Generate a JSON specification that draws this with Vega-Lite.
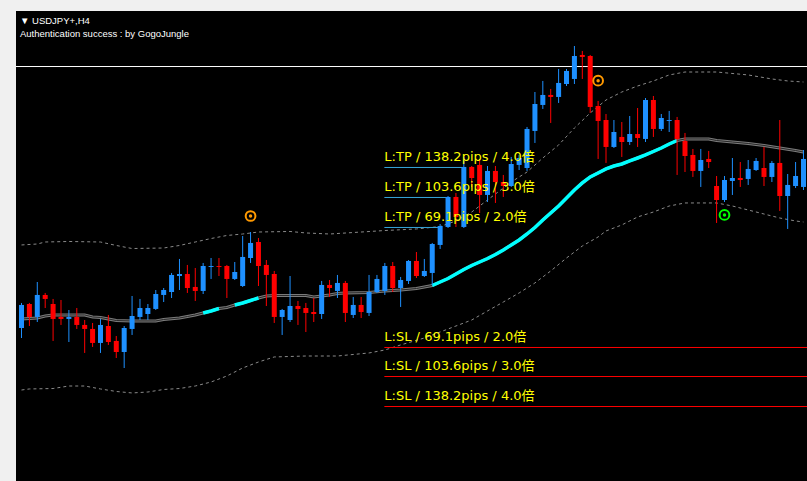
{
  "$schema": "https://vega.github.io/schema/vega-lite/v6.json",
  "width": 791,
  "height": 470,
  "autosize": {"type": "none"},
  "padding": {"left": 16, "top": 11, "right": 0, "bottom": 0},
  "background": "#f0f0f0",
  "config": {"view": {"stroke": null, "fill": "#000000"}},
  "title": {
    "text": "▼ USDJPY+,H4",
    "subtitle": "Authentication success : by GogoJungle",
    "anchor": "start",
    "frame": "group",
    "orient": "top",
    "offset": -27,
    "dx": 4,
    "font": "Liberation Sans",
    "fontSize": 9.5,
    "fontWeight": "normal",
    "color": "#ffffff",
    "subtitleFont": "Liberation Sans",
    "subtitleFontSize": 9.5,
    "subtitleColor": "#ffffff",
    "subtitlePadding": 3
  },
  "datasets": {
    "candles": [
      {"i":0,"o":110.032,"h":110.320,"l":109.917,"c":110.297},
      {"i":1,"o":110.308,"h":110.320,"l":110.055,"c":110.159},
      {"i":2,"o":110.159,"h":110.561,"l":110.101,"c":110.412},
      {"i":3,"o":110.412,"h":110.435,"l":110.262,"c":110.366},
      {"i":4,"o":110.308,"h":110.366,"l":109.883,"c":110.136},
      {"i":5,"o":110.159,"h":110.354,"l":110.067,"c":110.136},
      {"i":6,"o":110.136,"h":110.239,"l":109.871,"c":110.159},
      {"i":7,"o":110.159,"h":110.262,"l":110.021,"c":110.067},
      {"i":8,"o":110.067,"h":110.124,"l":109.745,"c":110.021},
      {"i":9,"o":110.021,"h":110.090,"l":109.814,"c":109.860},
      {"i":10,"o":109.860,"h":110.136,"l":109.745,"c":110.067},
      {"i":11,"o":110.055,"h":110.182,"l":109.837,"c":109.871},
      {"i":12,"o":109.883,"h":109.940,"l":109.687,"c":109.756},
      {"i":13,"o":109.756,"h":110.055,"l":109.572,"c":110.032},
      {"i":14,"o":110.021,"h":110.400,"l":109.952,"c":110.170},
      {"i":15,"o":110.159,"h":110.366,"l":110.124,"c":110.262},
      {"i":16,"o":110.193,"h":110.308,"l":110.124,"c":110.262},
      {"i":17,"o":110.251,"h":110.469,"l":110.239,"c":110.423},
      {"i":18,"o":110.412,"h":110.492,"l":110.331,"c":110.469},
      {"i":19,"o":110.446,"h":110.665,"l":110.377,"c":110.642},
      {"i":20,"o":110.630,"h":110.826,"l":110.469,"c":110.653},
      {"i":21,"o":110.653,"h":110.757,"l":110.435,"c":110.492},
      {"i":22,"o":110.504,"h":110.722,"l":110.343,"c":110.458},
      {"i":23,"o":110.458,"h":110.780,"l":110.423,"c":110.745},
      {"i":24,"o":110.734,"h":110.837,"l":110.596,"c":110.745},
      {"i":25,"o":110.745,"h":110.837,"l":110.630,"c":110.734},
      {"i":26,"o":110.745,"h":110.757,"l":110.377,"c":110.596},
      {"i":27,"o":110.596,"h":110.791,"l":110.584,"c":110.676},
      {"i":28,"o":110.515,"h":111.090,"l":110.504,"c":110.849},
      {"i":29,"o":110.837,"h":111.136,"l":110.780,"c":111.010},
      {"i":30,"o":111.021,"h":111.067,"l":110.515,"c":110.745},
      {"i":31,"o":110.757,"h":110.814,"l":110.285,"c":110.642},
      {"i":32,"o":110.653,"h":110.688,"l":110.090,"c":110.159},
      {"i":33,"o":110.159,"h":110.251,"l":109.952,"c":110.239},
      {"i":34,"o":110.124,"h":110.630,"l":110.101,"c":110.285},
      {"i":35,"o":110.285,"h":110.343,"l":110.067,"c":110.251},
      {"i":36,"o":110.262,"h":110.320,"l":109.986,"c":110.205},
      {"i":37,"o":110.216,"h":110.377,"l":110.101,"c":110.193},
      {"i":38,"o":110.193,"h":110.573,"l":110.136,"c":110.527},
      {"i":39,"o":110.527,"h":110.584,"l":110.389,"c":110.492},
      {"i":40,"o":110.458,"h":110.642,"l":110.377,"c":110.550},
      {"i":41,"o":110.550,"h":110.573,"l":110.101,"c":110.205},
      {"i":42,"o":110.182,"h":110.389,"l":110.147,"c":110.297},
      {"i":43,"o":110.297,"h":110.389,"l":110.147,"c":110.216},
      {"i":44,"o":110.205,"h":110.642,"l":110.170,"c":110.446},
      {"i":45,"o":110.446,"h":110.642,"l":110.435,"c":110.596},
      {"i":46,"o":110.458,"h":110.780,"l":110.412,"c":110.745},
      {"i":47,"o":110.745,"h":110.791,"l":110.446,"c":110.492},
      {"i":48,"o":110.492,"h":110.619,"l":110.274,"c":110.584},
      {"i":49,"o":110.573,"h":110.814,"l":110.538,"c":110.803},
      {"i":50,"o":110.803,"h":110.906,"l":110.607,"c":110.630},
      {"i":51,"o":110.630,"h":110.826,"l":110.619,"c":110.688},
      {"i":52,"o":110.665,"h":111.010,"l":110.527,"c":110.998},
      {"i":53,"o":110.987,"h":111.228,"l":110.941,"c":111.205},
      {"i":54,"o":111.194,"h":111.550,"l":111.182,"c":111.539},
      {"i":55,"o":111.539,"h":111.585,"l":111.194,"c":111.309},
      {"i":56,"o":111.194,"h":111.999,"l":111.182,"c":111.884},
      {"i":57,"o":111.884,"h":111.895,"l":111.654,"c":111.757},
      {"i":58,"o":111.907,"h":111.976,"l":111.355,"c":111.562},
      {"i":59,"o":111.562,"h":111.895,"l":111.481,"c":111.838},
      {"i":60,"o":111.838,"h":111.895,"l":111.470,"c":111.711},
      {"i":61,"o":111.711,"h":111.792,"l":111.539,"c":111.665},
      {"i":62,"o":111.665,"h":111.999,"l":111.654,"c":111.918},
      {"i":63,"o":111.907,"h":112.022,"l":111.849,"c":111.987},
      {"i":64,"o":111.872,"h":112.344,"l":111.838,"c":112.321},
      {"i":65,"o":112.298,"h":112.746,"l":112.160,"c":112.608},
      {"i":66,"o":112.597,"h":112.873,"l":112.551,"c":112.712},
      {"i":67,"o":112.712,"h":112.781,"l":112.390,"c":112.689},
      {"i":68,"o":112.689,"h":113.011,"l":112.620,"c":112.850},
      {"i":69,"o":112.838,"h":113.011,"l":112.815,"c":112.988},
      {"i":70,"o":112.896,"h":113.275,"l":112.838,"c":113.160},
      {"i":71,"o":113.172,"h":113.218,"l":112.896,"c":113.149},
      {"i":72,"o":113.160,"h":113.172,"l":112.505,"c":112.574},
      {"i":73,"o":112.585,"h":112.643,"l":111.976,"c":112.413},
      {"i":74,"o":112.424,"h":112.493,"l":111.930,"c":112.114},
      {"i":75,"o":112.114,"h":112.424,"l":112.102,"c":112.286},
      {"i":76,"o":112.229,"h":112.401,"l":111.999,"c":112.171},
      {"i":77,"o":112.171,"h":112.470,"l":112.137,"c":112.263},
      {"i":78,"o":112.263,"h":112.562,"l":112.114,"c":112.217},
      {"i":79,"o":112.206,"h":112.677,"l":112.171,"c":112.654},
      {"i":80,"o":112.654,"h":112.700,"l":112.229,"c":112.321},
      {"i":81,"o":112.321,"h":112.493,"l":112.298,"c":112.447},
      {"i":82,"o":112.413,"h":112.528,"l":112.286,"c":112.424},
      {"i":83,"o":112.424,"h":112.459,"l":111.792,"c":112.206},
      {"i":84,"o":112.183,"h":112.275,"l":111.826,"c":112.010},
      {"i":85,"o":112.022,"h":112.091,"l":111.769,"c":111.838},
      {"i":86,"o":111.838,"h":112.091,"l":111.654,"c":111.964},
      {"i":87,"o":111.976,"h":112.068,"l":111.872,"c":111.941},
      {"i":88,"o":111.665,"h":111.780,"l":111.240,"c":111.504},
      {"i":89,"o":111.504,"h":111.780,"l":111.481,"c":111.734},
      {"i":90,"o":111.723,"h":111.987,"l":111.562,"c":111.757},
      {"i":91,"o":111.757,"h":111.941,"l":111.654,"c":111.734},
      {"i":92,"o":111.746,"h":111.964,"l":111.677,"c":111.861},
      {"i":93,"o":111.849,"h":111.987,"l":111.838,"c":111.953},
      {"i":94,"o":111.872,"h":112.114,"l":111.665,"c":111.769},
      {"i":95,"o":111.769,"h":111.953,"l":111.711,"c":111.930},
      {"i":96,"o":111.930,"h":112.424,"l":111.378,"c":111.550},
      {"i":97,"o":111.550,"h":111.803,"l":111.171,"c":111.677},
      {"i":98,"o":111.665,"h":111.941,"l":111.642,"c":111.780},
      {"i":99,"o":111.654,"h":112.079,"l":111.619,"c":111.976}
    ],
    "ma": [
      {"i":0,"v":110.136},{"i":2,"v":110.147},{"i":3,"v":110.170},{"i":4,"v":110.182},
      {"i":8,"v":110.182},{"i":9,"v":110.159},{"i":10,"v":110.153},{"i":11,"v":110.136},
      {"i":12,"v":110.118},{"i":14,"v":110.113},{"i":17,"v":110.113},{"i":18,"v":110.130},
      {"i":20,"v":110.147},{"i":21,"v":110.164},{"i":22,"v":110.182},
      {"i":23,"v":110.205,"t":"A"},{"i":24,"v":110.228,"t":"A"},{"i":25,"v":110.256,"t":"A"},
      {"i":26,"v":110.268},
      {"i":27,"v":110.297,"t":"B"},{"i":28,"v":110.320,"t":"B"},{"i":29,"v":110.348,"t":"B"},{"i":30,"v":110.377,"t":"B"},
      {"i":31,"v":110.400},{"i":32,"v":110.406},{"i":36,"v":110.406},{"i":37,"v":110.389},
      {"i":38,"v":110.400},{"i":39,"v":110.412},{"i":40,"v":110.429},{"i":41,"v":110.435},
      {"i":44,"v":110.440},{"i":46,"v":110.458},{"i":48,"v":110.469},{"i":50,"v":110.486},
      {"i":52,"v":110.521,"t":"C"},{"i":53,"v":110.561,"t":"C"},{"i":54,"v":110.601,"t":"C"},
      {"i":55,"v":110.653,"t":"C"},{"i":56,"v":110.705,"t":"C"},{"i":57,"v":110.751,"t":"C"},
      {"i":58,"v":110.791,"t":"C"},{"i":59,"v":110.831,"t":"C"},{"i":60,"v":110.877,"t":"C"},
      {"i":61,"v":110.929,"t":"C"},{"i":62,"v":110.987,"t":"C"},{"i":63,"v":111.044,"t":"C"},
      {"i":64,"v":111.113,"t":"C"},{"i":65,"v":111.188,"t":"C"},{"i":66,"v":111.274,"t":"C"},
      {"i":67,"v":111.355,"t":"C"},{"i":68,"v":111.435,"t":"C"},{"i":69,"v":111.527,"t":"C"},
      {"i":70,"v":111.619,"t":"C"},{"i":71,"v":111.700,"t":"C"},{"i":72,"v":111.769,"t":"C"},
      {"i":73,"v":111.815,"t":"C"},{"i":74,"v":111.861,"t":"C"},{"i":75,"v":111.895,"t":"C"},
      {"i":76,"v":111.918,"t":"C"},{"i":77,"v":111.953,"t":"C"},{"i":78,"v":111.987,"t":"C"},
      {"i":79,"v":112.022,"t":"C"},{"i":80,"v":112.062,"t":"C"},{"i":81,"v":112.102,"t":"C"},
      {"i":82,"v":112.148,"t":"C"},{"i":83,"v":112.188,"t":"C"},
      {"i":84,"v":112.206},{"i":87,"v":112.206},{"i":88,"v":112.188},{"i":90,"v":112.171},
      {"i":92,"v":112.154},{"i":94,"v":112.131},{"i":96,"v":112.102},{"i":98,"v":112.073},
      {"i":99,"v":112.056}
    ],
    "bands": [
      {"b":"upper","i":0,"v":110.987},{"b":"upper","i":2,"v":110.998},{"b":"upper","i":3,"v":111.021},
      {"b":"upper","i":6,"v":111.027},{"b":"upper","i":10,"v":111.021},{"b":"upper","i":12,"v":110.981},
      {"b":"upper","i":14,"v":110.946},{"b":"upper","i":18,"v":110.952},{"b":"upper","i":20,"v":110.981},
      {"b":"upper","i":22,"v":111.021},{"b":"upper","i":24,"v":111.061},{"b":"upper","i":26,"v":111.096},
      {"b":"upper","i":28,"v":111.113},{"b":"upper","i":30,"v":111.136},{"b":"upper","i":34,"v":111.142},
      {"b":"upper","i":36,"v":111.125},{"b":"upper","i":39,"v":111.113},{"b":"upper","i":42,"v":111.130},
      {"b":"upper","i":46,"v":111.153},{"b":"upper","i":50,"v":111.171},{"b":"upper","i":53,"v":111.199},
      {"b":"upper","i":55,"v":111.263},{"b":"upper","i":57,"v":111.366},{"b":"upper","i":58,"v":111.435},
      {"b":"upper","i":60,"v":111.573},{"b":"upper","i":62,"v":111.711},{"b":"upper","i":64,"v":111.826},
      {"b":"upper","i":66,"v":111.987},{"b":"upper","i":68,"v":112.137},{"b":"upper","i":70,"v":112.332},
      {"b":"upper","i":72,"v":112.505},{"b":"upper","i":74,"v":112.654},{"b":"upper","i":76,"v":112.746},
      {"b":"upper","i":78,"v":112.815},{"b":"upper","i":80,"v":112.873},{"b":"upper","i":82,"v":112.942},
      {"b":"upper","i":84,"v":112.976},{"b":"upper","i":88,"v":112.976},{"b":"upper","i":92,"v":112.942},
      {"b":"upper","i":95,"v":112.896},{"b":"upper","i":97,"v":112.873},{"b":"upper","i":99,"v":112.861},
      {"b":"lower","i":0,"v":109.319},{"b":"lower","i":1,"v":109.331},{"b":"lower","i":4,"v":109.336},
      {"b":"lower","i":6,"v":109.365},{"b":"lower","i":8,"v":109.365},{"b":"lower","i":10,"v":109.331},
      {"b":"lower","i":12,"v":109.302},{"b":"lower","i":14,"v":109.285},{"b":"lower","i":16,"v":109.296},
      {"b":"lower","i":18,"v":109.325},{"b":"lower","i":20,"v":109.336},{"b":"lower","i":22,"v":109.365},
      {"b":"lower","i":24,"v":109.411},{"b":"lower","i":26,"v":109.480},{"b":"lower","i":28,"v":109.572},
      {"b":"lower","i":30,"v":109.641},{"b":"lower","i":32,"v":109.699},{"b":"lower","i":36,"v":109.710},
      {"b":"lower","i":40,"v":109.710},{"b":"lower","i":44,"v":109.745},{"b":"lower","i":46,"v":109.779},
      {"b":"lower","i":48,"v":109.837},{"b":"lower","i":51,"v":109.917},{"b":"lower","i":53,"v":109.986},
      {"b":"lower","i":55,"v":110.055},{"b":"lower","i":57,"v":110.124},{"b":"lower","i":59,"v":110.228},
      {"b":"lower","i":61,"v":110.331},{"b":"lower","i":63,"v":110.435},{"b":"lower","i":65,"v":110.550},
      {"b":"lower","i":67,"v":110.688},{"b":"lower","i":69,"v":110.837},{"b":"lower","i":71,"v":110.975},
      {"b":"lower","i":73,"v":111.079},{"b":"lower","i":74,"v":111.148},{"b":"lower","i":76,"v":111.217},
      {"b":"lower","i":78,"v":111.309},{"b":"lower","i":80,"v":111.366},{"b":"lower","i":82,"v":111.435},
      {"b":"lower","i":84,"v":111.470},{"b":"lower","i":88,"v":111.470},{"b":"lower","i":90,"v":111.435},
      {"b":"lower","i":92,"v":111.389},{"b":"lower","i":94,"v":111.343},{"b":"lower","i":96,"v":111.297},
      {"b":"lower","i":98,"v":111.263},{"b":"lower","i":99,"v":111.251}
    ],
    "hline": [{"v":113.039}],
    "levels": [
      {"kind":"TP","label":"L:TP / 138.2pips / 4.0倍","v":111.878,"i0":45.94,"i1":55.94},
      {"kind":"TP","label":"L:TP / 103.6pips / 3.0倍","v":111.533,"i0":45.94,"i1":53.78},
      {"kind":"TP","label":"L:TP / 69.1pips / 2.0倍","v":111.188,"i0":45.94,"i1":52.94},
      {"kind":"SL","label":"L:SL / 69.1pips / 2.0倍","v":109.808,"i0":45.94,"i1":99.5},
      {"kind":"SL","label":"L:SL / 103.6pips / 3.0倍","v":109.474,"i0":45.94,"i1":99.5},
      {"kind":"SL","label":"L:SL / 138.2pips / 4.0倍","v":109.129,"i0":45.94,"i1":99.5}
    ],
    "signals": [
      {"kind":"sell","i":29,"v":111.320},
      {"kind":"sell","i":73,"v":112.876},
      {"kind":"buy","i":89,"v":111.332}
    ]
  },
  "layer": [
    {
      "data": {"name": "bands"},
      "mark": {"type": "line", "stroke": "#8a8a8a", "strokeWidth": 1, "strokeDash": [3, 3], "clip": true},
      "encoding": {
        "x": {"field": "i", "type": "quantitative", "scale": {"domain": [-0.0625, 98.8125], "nice": false, "zero": false}, "axis": null},
        "y": {"field": "v", "type": "quantitative", "scale": {"domain": [108.2725, 113.6775], "nice": false, "zero": false}, "axis": null},
        "detail": {"field": "b"}
      }
    },
    {
      "data": {"name": "ma"},
      "mark": {"type": "line", "stroke": "#7c7c7c", "strokeWidth": 3, "clip": true},
      "encoding": {
        "x": {"field": "i", "type": "quantitative"},
        "y": {"field": "v", "type": "quantitative"}
      }
    },
    {
      "data": {"name": "ma"},
      "mark": {"type": "line", "stroke": "#262626", "strokeWidth": 1, "clip": true},
      "encoding": {
        "x": {"field": "i", "type": "quantitative"},
        "y": {"field": "v", "type": "quantitative"}
      }
    },
    {
      "data": {"name": "ma"},
      "transform": [{"filter": "isValid(datum.t)"}],
      "mark": {"type": "line", "stroke": "#00ffff", "strokeWidth": 3.5, "clip": true},
      "encoding": {
        "x": {"field": "i", "type": "quantitative"},
        "y": {"field": "v", "type": "quantitative"},
        "detail": {"field": "t"}
      }
    },
    {
      "data": {"name": "hline"},
      "mark": {"type": "rule", "stroke": "#ffffff", "strokeWidth": 1},
      "encoding": {"y": {"field": "v", "type": "quantitative"}}
    },
    {
      "data": {"name": "levels"},
      "mark": {"type": "rule", "strokeWidth": 1, "clip": true},
      "encoding": {
        "x": {"field": "i0", "type": "quantitative"},
        "x2": {"field": "i1"},
        "y": {"field": "v", "type": "quantitative"},
        "color": {"condition": {"test": "datum.kind == 'TP'", "value": "#36a5d8"}, "value": "#ff0000"}
      }
    },
    {
      "data": {"name": "candles"},
      "mark": {"type": "rule", "strokeWidth": 1, "clip": true},
      "encoding": {
        "x": {"field": "i", "type": "quantitative"},
        "y": {"field": "l", "type": "quantitative"},
        "y2": {"field": "h"},
        "color": {"condition": {"test": "datum.c >= datum.o", "value": "#1e90ff"}, "value": "#ff0000"}
      }
    },
    {
      "data": {"name": "candles"},
      "mark": {"type": "bar", "width": 5, "clip": true},
      "encoding": {
        "x": {"field": "i", "type": "quantitative"},
        "y": {"field": "o", "type": "quantitative"},
        "y2": {"field": "c"},
        "color": {"condition": {"test": "datum.c >= datum.o", "value": "#1e90ff"}, "value": "#ff0000"}
      }
    },
    {
      "data": {"name": "signals"},
      "mark": {"type": "point", "filled": false, "shape": "circle", "size": 95, "strokeWidth": 2, "opacity": 1},
      "encoding": {
        "x": {"field": "i", "type": "quantitative"},
        "y": {"field": "v", "type": "quantitative"},
        "color": {"condition": {"test": "datum.kind == 'sell'", "value": "#ff9900"}, "value": "#00ff00"}
      }
    },
    {
      "data": {"name": "signals"},
      "mark": {"type": "circle", "size": 12, "opacity": 1},
      "encoding": {
        "x": {"field": "i", "type": "quantitative"},
        "y": {"field": "v", "type": "quantitative"},
        "color": {"condition": {"test": "datum.kind == 'sell'", "value": "#ff9900"}, "value": "#00ff00"}
      }
    },
    {
      "data": {"name": "levels"},
      "mark": {"type": "text", "align": "left", "baseline": "alphabetic", "dy": -6.5, "font": "DejaVu Sans, Noto Sans CJK JP", "fontSize": 13, "fill": "#ffff00"},
      "encoding": {
        "x": {"field": "i0", "type": "quantitative"},
        "y": {"field": "v", "type": "quantitative"},
        "text": {"field": "label"}
      }
    }
  ]
}
